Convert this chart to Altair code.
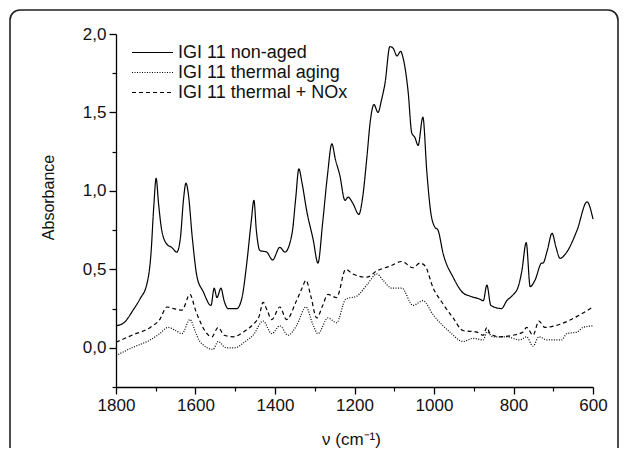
import altair as alt
import pandas as pd

# ---- data ----
series_names = ["IGI 11 non-aged", "IGI 11 thermal aging", "IGI 11 thermal + NOx"]

nonaged_nu = [1800, 1780, 1757, 1740, 1722, 1712, 1705, 1699, 1693, 1685, 1672, 1660, 1647, 1638,
              1630, 1624, 1618, 1608, 1596, 1581, 1561, 1553, 1546, 1536, 1528, 1518, 1496, 1483,
              1471, 1460, 1453, 1447, 1438, 1421, 1406, 1388, 1375, 1357, 1348, 1340, 1332, 1320,
              1304, 1292, 1280, 1268, 1257, 1248, 1237, 1224, 1216, 1204, 1189, 1180, 1169, 1160,
              1151, 1141, 1132, 1123, 1111, 1103, 1093, 1084, 1078, 1065, 1056, 1048, 1040, 1028,
              1018, 1008, 998, 990, 977, 952, 927, 910, 885, 876, 867, 857, 830, 817, 804, 788,
              779, 768, 758, 746, 729, 726, 715, 703, 693, 683, 666, 640, 615, 600]
nonaged_abs = [0.14, 0.16, 0.24, 0.31, 0.41, 0.60, 0.90, 1.08, 0.92, 0.75, 0.66, 0.64, 0.61, 0.70,
               0.95, 1.05, 0.98, 0.70, 0.45, 0.36, 0.27, 0.38, 0.32, 0.38, 0.30, 0.25, 0.25, 0.32,
               0.54, 0.80, 0.94, 0.75, 0.62, 0.61, 0.56, 0.64, 0.61, 0.73, 0.95, 1.14, 1.05, 0.87,
               0.69, 0.54, 0.80, 1.10, 1.30, 1.20, 1.10, 0.94, 0.96, 0.92, 0.85, 0.95, 1.21, 1.45,
               1.55, 1.50, 1.58, 1.69, 1.92, 1.91, 1.86, 1.89, 1.85, 1.63, 1.37, 1.34, 1.29, 1.47,
               1.12, 0.86, 0.77, 0.75, 0.60, 0.45, 0.35, 0.33, 0.31, 0.30, 0.40, 0.27, 0.25, 0.30,
               0.33, 0.39, 0.49, 0.67, 0.39, 0.43, 0.54, 0.54, 0.62, 0.73, 0.64, 0.57, 0.61, 0.75,
               0.93, 0.82]

thermal_nu = [1800, 1760, 1714, 1690, 1669, 1650, 1634, 1614, 1600, 1589, 1556, 1543, 1523, 1501,
              1475, 1455, 1430, 1408, 1388, 1367, 1346, 1322, 1305, 1292, 1267, 1245, 1222, 1194,
              1169, 1144, 1128, 1106, 1081, 1053, 1028, 1002, 960, 927, 902, 876, 867, 852, 817,
              784, 767, 751, 736, 716, 679, 666, 640, 625, 600]
thermal_abs = [-0.05, 0.00, 0.05, 0.09, 0.13, 0.11, 0.09, 0.18, 0.10, 0.04, -0.01, 0.04, 0.00, 0.00,
               0.04, 0.08, 0.17, 0.09, 0.14, 0.08, 0.14, 0.26, 0.15, 0.09, 0.19, 0.16, 0.31, 0.33,
               0.40, 0.47, 0.43, 0.38, 0.38, 0.27, 0.30, 0.21, 0.10, 0.04, 0.06, 0.05, 0.10, 0.07,
               0.07, 0.05, 0.07, 0.01, 0.07, 0.05, 0.05, 0.09, 0.10, 0.13, 0.14]

nox_nu = [1800, 1760, 1714, 1690, 1672, 1655, 1634, 1614, 1600, 1589, 1559, 1543, 1528, 1505,
          1480, 1455, 1440, 1430, 1420, 1408, 1388, 1371, 1346, 1332, 1322, 1310, 1295, 1280,
          1267, 1245, 1222, 1204, 1169, 1144, 1111, 1081, 1053, 1035, 1022, 1002, 980, 952,
          927, 892, 876, 867, 859, 834, 801, 776, 767, 751, 736, 721, 683, 640, 600]
nox_abs = [0.035, 0.08, 0.13, 0.18, 0.26, 0.25, 0.24, 0.34, 0.24, 0.17, 0.07, 0.13, 0.08, 0.07,
           0.10, 0.15, 0.20, 0.29, 0.24, 0.18, 0.26, 0.18, 0.30, 0.38, 0.43, 0.33, 0.19, 0.27,
           0.34, 0.32, 0.50, 0.47, 0.45, 0.49, 0.52, 0.55, 0.51, 0.54, 0.52, 0.38, 0.29, 0.19,
           0.11, 0.10, 0.08, 0.13, 0.09, 0.07, 0.08, 0.10, 0.13, 0.08, 0.17, 0.13, 0.15, 0.20, 0.26]

x_major = [1800, 1600, 1400, 1200, 1000, 800, 600]
x_minor = [1700, 1500, 1300, 1100, 900, 700]
y_major = [0.0, 0.5, 1.0, 1.5, 2.0]
y_minor = [-0.25, 0.25, 0.75, 1.25, 1.75]

frames = []
for name, nu, ab in [(series_names[0], nonaged_nu, nonaged_abs),
                     (series_names[1], thermal_nu, thermal_abs),
                     (series_names[2], nox_nu, nox_abs)]:
    frames.append(pd.DataFrame({"nu": nu, "absorbance": ab, "series": name}))
df = pd.concat(frames, ignore_index=True)

FONT = "Liberation Sans"

x_scale = alt.Scale(domain=[600, 1800], reverse=True, nice=False, zero=False)
y_scale = alt.Scale(domain=[-0.25, 2.0], nice=False, zero=False)

lines = alt.Chart(df).mark_line(interpolate="monotone", color="black", strokeWidth=1.2).encode(
    x=alt.X("nu:Q", scale=x_scale,
            axis=alt.Axis(orient="bottom", values=x_major, format="d", tickSize=7,
                          labelPadding=3, labelFontSize=17, labelFont=FONT, labelColor="#111",
                          labelFlush=False,
                          title="ν (cm⁻¹)", titleFont=FONT, titleFontSize=17,
                          titleFontWeight="normal", titleColor="#111",
                          titleX=235, titleY=57, titleBaseline="alphabetic",
                          domainColor="black", domainWidth=1.3, tickColor="black",
                          tickWidth=1.3, grid=False)),
    y=alt.Y("absorbance:Q", scale=y_scale,
            axis=alt.Axis(orient="left", values=y_major,
                          labelExpr="replace(format(datum.value, '.1f'), '.', ',')",
                          tickSize=7, labelPadding=3, labelFontSize=17, labelFont=FONT,
                          labelColor="#111", labelFlush=False,
                          title="Absorbance", titleFont=FONT,
                          titleFontSize=16, titleFontWeight="normal", titleColor="#111",
                          titleAngle=-90, titleX=-63, titleY=163, titleAlign="center",
                          titleBaseline="alphabetic",
                          domainColor="black", domainWidth=1.3, tickColor="black",
                          tickWidth=1.3, grid=False)),
    strokeDash=alt.StrokeDash(
        "series:N",
        scale=alt.Scale(domain=series_names, range=[[1, 0], [1, 1.5], [4, 3]]),
        legend=alt.Legend(orient="none", legendX=25.5, legendY=7.5, title=None,
                          symbolType="M-2,0H2", symbolSize=420, symbolStrokeWidth=1.2,
                          symbolStrokeColor="black", symbolFillColor="transparent",
                          labelFontSize=18, labelFont=FONT,
                          labelColor="#111", labelOffset=14.5, rowPadding=0, padding=0,
                          labelLimit=400),
    ),
)

minor = alt.Chart(df).mark_line(opacity=0).encode(
    x=alt.X("nu:Q", scale=x_scale,
            axis=alt.Axis(orient="bottom", values=x_minor, labels=False, domain=False,
                          tickSize=4, tickColor="black", tickWidth=1.2, title=None, grid=False)),
    y=alt.Y("absorbance:Q", scale=y_scale,
            axis=alt.Axis(orient="left", values=y_minor, labels=False, domain=False,
                          tickSize=4, tickColor="black", tickWidth=1.2, title=None, grid=False)),
    detail="series:N",
)

frame = alt.Chart(alt.Data(values=[{"k": 1}])).mark_rect(
    filled=False, stroke="#222", strokeWidth=1.6, cornerRadius=10
).encode(
    x=alt.value(-106), x2=alt.value(502), y=alt.value(-24), y2=alt.value(470)
)

chart = alt.layer(frame, lines, minor).resolve_axis(
    x="independent", y="independent"
).properties(
    width=477, height=353,
    autosize=alt.AutoSizeParams(type="none"),
    padding={"left": 108, "top": 26, "right": 28, "bottom": 61},
).configure_view(stroke=None)

chart.save("out.html", embed_options={"renderer": "svg", "actions": False})
